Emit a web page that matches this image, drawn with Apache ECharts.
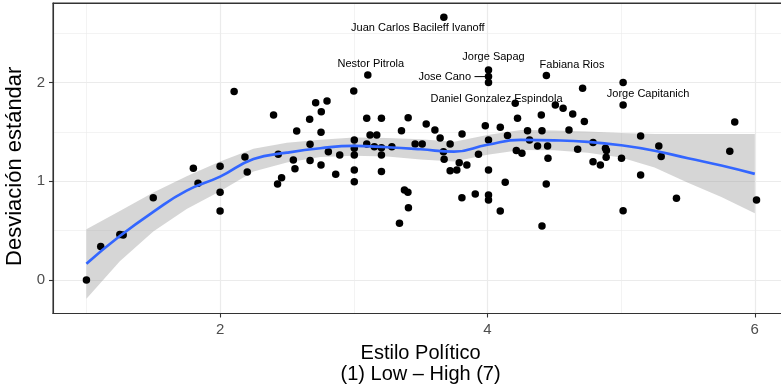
<!DOCTYPE html>
<html><head><meta charset="utf-8">
<script src="https://cdn.jsdelivr.net/npm/echarts@6/dist/echarts.min.js"></script>
<style>html,body{margin:0;padding:0;background:#fff}#c{width:781px;height:389px}</style>
</head><body><div id="c"></div>
<script>
const pointsX = [1.0,1.107,1.25,1.275,1.50,1.80,1.835,2.0,2.0,2.0,2.105,2.186,2.203,2.40,2.435,2.43,2.46,2.548,2.56,2.573,2.67,2.673,2.673,2.715,2.757,2.755,2.755,2.80,2.81,2.865,2.895,3.0,3.004,3.004,3.004,3.004,3.004,3.105,3.097,3.097,3.122,3.172,3.154,3.207,3.207,3.207,3.207,3.285,3.342,3.357,3.379,3.405,3.409,3.407,3.459,3.512,3.542,3.607,3.646,3.671,3.676,3.674,3.721,3.721,3.771,3.789,3.809,3.81,3.846,3.909,3.933,3.984,4.008,4.008,4.008,4.008,4.008,4.008,4.008,4.096,4.096,4.133,4.15,4.208,4.216,4.225,4.258,4.30,4.315,4.375,4.403,4.408,4.408,4.44,4.441,4.45,4.453,4.508,4.566,4.61,4.638,4.675,4.712,4.725,4.79,4.79,4.845,4.883,4.89,4.888,5.003,5.015,5.015,5.015,5.146,5.146,5.282,5.30,5.414,5.813,5.85,6.013];
const pointsY = [0.0,0.338,0.46,0.456,0.834,1.132,0.98,1.152,0.889,0.70,1.909,1.247,1.095,1.673,1.274,0.973,1.037,1.216,1.128,1.51,1.629,1.376,1.21,1.797,1.706,1.497,1.166,1.815,1.30,1.071,1.267,1.916,1.419,1.335,1.267,1.115,0.996,2.078,1.639,1.379,1.47,1.47,1.351,1.639,1.34,1.267,1.098,1.351,0.575,1.513,0.912,0.889,0.733,1.645,1.379,1.379,1.581,1.52,1.44,1.30,1.223,2.663,1.379,1.108,1.115,1.189,0.834,1.48,1.166,0.872,1.274,1.564,2.129,2.061,2.0,1.419,1.115,0.862,0.811,1.548,0.70,0.99,1.463,1.791,1.311,1.639,1.284,1.513,1.419,1.358,1.672,1.513,0.547,0.973,2.071,1.358,1.233,1.774,1.74,1.521,1.683,1.325,1.943,1.605,1.392,1.199,1.166,1.335,1.311,1.244,1.233,2.0,1.774,0.702,1.46,1.064,1.358,1.25,0.828,1.305,1.60,0.811];

const smoothX     = [1.0,1.25,1.5,1.75,2.0,2.25,2.5,2.75,3.0,3.25,3.5,3.75,4.0,4.25,4.5,4.75,5.0,5.25,5.5,5.75,6.0];
const smoothFit   = [0.165,0.445,0.69,0.905,1.047,1.225,1.29,1.335,1.358,1.345,1.325,1.30,1.37,1.419,1.415,1.40,1.365,1.31,1.233,1.16,1.075];
const smoothUpper = [0.514,0.70,0.887,1.05,1.2,1.33,1.39,1.42,1.445,1.44,1.425,1.40,1.47,1.52,1.515,1.505,1.49,1.48,1.48,1.48,1.48];
const smoothLower = [-0.19,0.19,0.49,0.72,0.90,1.10,1.19,1.245,1.26,1.25,1.22,1.20,1.27,1.318,1.315,1.29,1.24,1.14,0.985,0.84,0.676];

const labelNames = ['Juan Carlos Bacileff Ivanoff','Nestor Pitrola','Jorge Sapag','Jose Cano','Daniel Gonzalez Espindola','Fabiana Rios','Jorge Capitanich'];
const labelX = [3.674,3.105,4.008,4.008,4.008,4.441,5.015];
const labelY = [2.663,2.078,2.129,2.061,2.0,2.071,1.774];

const xTicks = [2,4,6];
const xMinorTicks = [1,3,5];
const yTicks = [0,1,2];
const yMinorTicks = [0.5,1.5,2.5];

const FONT = '"Liberation Sans", Arial, Helvetica, sans-serif';
const labelOffsets = {
  'Juan Carlos Bacileff Ivanoff': {dx:-26, dy:11},
  'Nestor Pitrola': {dx:3, dy:-11},
  'Jorge Sapag': {dx:5, dy:-13},
  'Jose Cano': {dx:-17.5, dy:0.5, align:'right', line:[-14,-2]},
  'Daniel Gonzalez Espindola': {dx:8, dy:16.3},
  'Fabiana Rios': {dx:25.6, dy:-10.7},
  'Jorge Capitanich': {dx:25, dy:-10.7}
};

const XMIN = 0.75, XMAX = 6.25, YMIN = -0.34, YMAX = 2.807;
const chart = echarts.init(document.getElementById('c'), null, {renderer:'canvas'});
const majorSplit = {show:true, lineStyle:{color:'#ebebeb', width:1.2}};
const minorSplit = {show:true, lineStyle:{color:'#ebebeb', width:0.6}};

chart.setOption({
  animation:false,
  backgroundColor:'#ffffff',
  textStyle:{fontFamily:FONT},
  grid:{left:53, right:-7.2, top:3, bottom:75.5, outerBoundsMode:'none', containLabel:false,
        show:true, borderColor:'#333333', borderWidth:1.1, backgroundColor:'transparent'},
  graphic:[{type:'line', z:100, silent:true,
            shape:{x1:53, y1:3.5, x2:781, y2:3.5},
            style:{stroke:'#333333', lineWidth:1.1}}],
  xAxis:[
    {type:'value', min:XMIN, max:XMAX, position:'bottom',
     axisLine:{show:true, onZero:false, lineStyle:{color:'#333333', width:1.1}},
     axisTick:{show:true, customValues:xTicks, length:4, lineStyle:{color:'#333333', width:1.1}},
     axisLabel:{customValues:xTicks, color:'#4d4d4d', fontSize:15, margin:9, fontFamily:FONT},
     splitLine:majorSplit,
     name:'Estilo Político\n(1) Low – High (7)', nameLocation:'middle', nameGap:27,
     nameTextStyle:{color:'#000', fontSize:20, lineHeight:21.6, fontFamily:FONT}},
    {type:'value', min:XMIN, max:XMAX, position:'top',
     axisLine:{show:true, onZero:false, lineStyle:{color:'#333333', width:1.1}},
     axisTick:{show:false, customValues:xMinorTicks},
     axisLabel:{show:false, customValues:xMinorTicks},
     splitLine:minorSplit}
  ],
  yAxis:[
    {type:'value', min:YMIN, max:YMAX, position:'left',
     axisLine:{show:true, onZero:false, lineStyle:{color:'#333333', width:1.1}},
     axisTick:{show:true, customValues:yTicks, length:4, lineStyle:{color:'#333333', width:1.1}},
     axisLabel:{customValues:yTicks, color:'#4d4d4d', fontSize:15, margin:8, fontFamily:FONT},
     splitLine:majorSplit,
     name:'Desviación estándar', nameLocation:'middle', nameGap:26, nameRotate:90,
     nameTextStyle:{color:'#000', fontSize:22, fontFamily:FONT, padding:[0,16,0,0]}},
    {type:'value', min:YMIN, max:YMAX, position:'right',
     axisLine:{show:false}, axisTick:{show:false, customValues:yMinorTicks},
     axisLabel:{show:false, customValues:yMinorTicks},
     splitLine:minorSplit}
  ],
  series:[
    {type:'scatter', xAxisIndex:0, yAxisIndex:0, silent:true,
     symbolSize:7.5, itemStyle:{color:'#000000', opacity:1},
     data:pointsX.map((x,i)=>[x, pointsY[i]])},
    {type:'custom', xAxisIndex:0, yAxisIndex:0, silent:true,
     data:[[smoothX[0], smoothFit[0]]],
     renderItem:function(params, api){
       const pts = [];
       for (let i = 0; i < smoothX.length; i++) pts.push(api.coord([smoothX[i], smoothUpper[i]]));
       for (let i = smoothX.length - 1; i >= 0; i--) pts.push(api.coord([smoothX[i], smoothLower[i]]));
       return {type:'polygon', shape:{points:pts}, style:{fill:'rgba(153,153,153,0.4)', stroke:null}};
     }},
    {type:'line', xAxisIndex:0, yAxisIndex:0, silent:true, smooth:true,
     showSymbol:false, symbol:'none', lineStyle:{color:'#3366FF', width:2.7},
     data:smoothX.map((x,i)=>[x, smoothFit[i]])},
    {type:'custom', xAxisIndex:0, yAxisIndex:0, silent:true, z:10,
     data:labelNames.map((n,i)=>[labelX[i], labelY[i], i]),
     renderItem:function(params, api){
       const i = api.value(2);
       const name = labelNames[i];
       const p = api.coord([api.value(0), api.value(1)]);
       const o = labelOffsets[name];
       const children = [{type:'text', x:p[0]+o.dx, y:p[1]+o.dy,
         style:{text:name, align:o.align||'center', verticalAlign:'middle',
                font:'11px ' + FONT, fill:'#000000'}}];
       if (o.line) children.push({type:'line',
         shape:{x1:p[0]+o.line[0], y1:p[1], x2:p[0]+o.line[1], y2:p[1]},
         style:{stroke:'#000000', lineWidth:1}});
       return {type:'group', children:children};
     }}
  ]
});
</script></body></html>
